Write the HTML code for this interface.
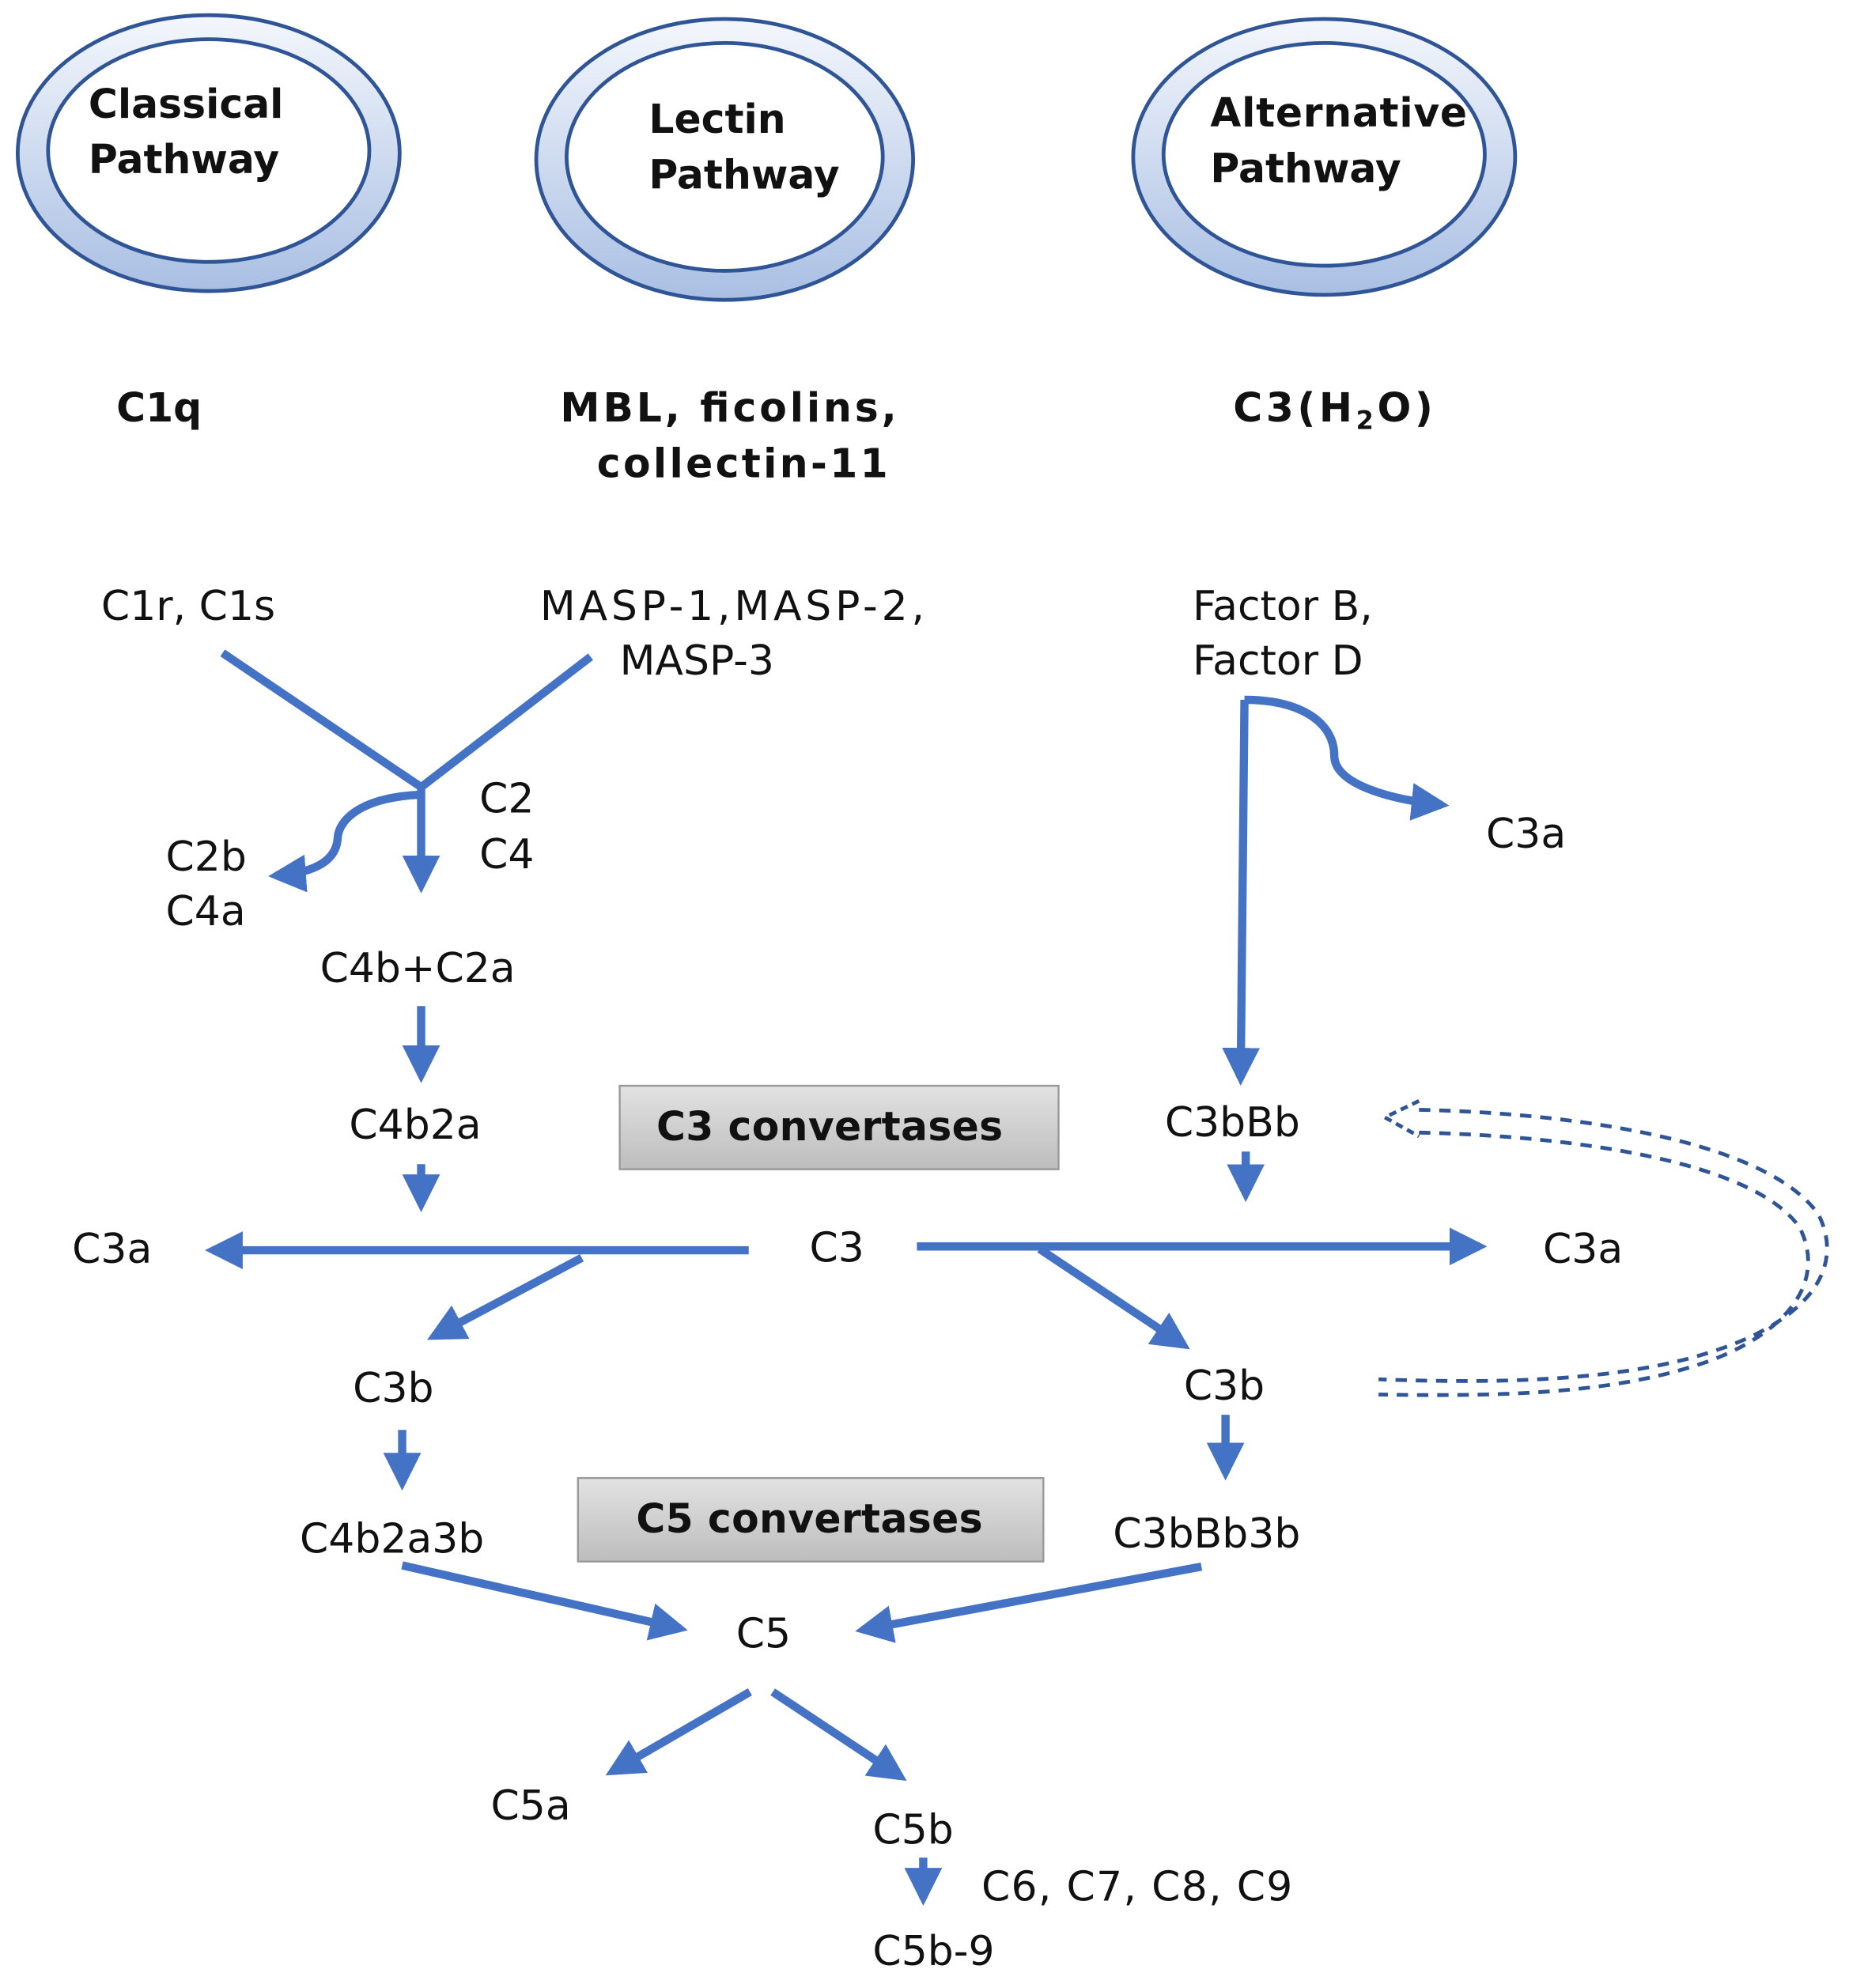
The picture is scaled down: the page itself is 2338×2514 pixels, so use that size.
<!DOCTYPE html>
<html><head><meta charset="utf-8"><style>
html,body{margin:0;padding:0;background:#fff;}
svg{display:block;}
text{font-family:"DejaVu Sans","Liberation Sans",sans-serif;fill:#111;font-size:32.5px;}
.b{font-weight:bold;font-size:31.5px;}
</style></head><body>
<svg width="2338" height="2514" viewBox="0 0 1462 1571" preserveAspectRatio="none" xmlns="http://www.w3.org/2000/svg">
<defs>
<linearGradient id="rg" x1="0" y1="0" x2="0" y2="1"><stop offset="0" stop-color="#f4f7fc"/><stop offset="1" stop-color="#a9bfe3"/></linearGradient>
<linearGradient id="bg" x1="0" y1="0" x2="0" y2="1"><stop offset="0" stop-color="#e2e2e2"/><stop offset="1" stop-color="#bdbdbd"/></linearGradient>
<marker id="a" viewBox="0 0 10 10" refX="8" refY="5" markerWidth="4.6" markerHeight="4.6" orient="auto" markerUnits="strokeWidth"><path d="M0,0 L10,5 L0,10 z" fill="#4472C4"/></marker>
</defs>
<g stroke="#2f5597" stroke-width="3">
<ellipse cx="165" cy="121" rx="151" ry="109" fill="url(#rg)"/><ellipse cx="165" cy="119" rx="127" ry="88" fill="#fff"/>
<ellipse cx="573" cy="126" rx="149" ry="111" fill="url(#rg)"/><ellipse cx="573" cy="124" rx="125" ry="90" fill="#fff"/>
<ellipse cx="1047" cy="124" rx="151" ry="109" fill="url(#rg)"/><ellipse cx="1047" cy="122" rx="127" ry="88" fill="#fff"/>
</g>
<text class="b" x="70" y="93">Classical</text><text class="b" x="70" y="137">Pathway</text>
<text class="b" x="513" y="105">Lectin</text><text class="b" x="513" y="149">Pathway</text>
<text class="b" x="957" y="100" textLength="203">Alternative</text><text class="b" x="957" y="144">Pathway</text>
<text class="b" x="92" y="333">C1q</text>
<text class="b" x="443" y="333" textLength="266">MBL, ficolins,</text>
<text class="b" x="472" y="377" textLength="230">collectin-11</text>
<text class="b" x="975" y="333" textLength="158">C3(H<tspan font-size="20" dy="6">2</tspan><tspan dy="-6">O)</tspan></text>
<text x="80" y="490">C1r, C1s</text>
<text x="427" y="490" textLength="304">MASP-1,MASP-2,</text><text x="490" y="533">MASP-3</text>
<text x="943" y="490">Factor B,</text><text x="943" y="533">Factor D</text>
<text x="379" y="642">C2</text><text x="379" y="686">C4</text>
<text x="131" y="688">C2b</text><text x="131" y="731">C4a</text>
<text x="253" y="776">C4b+C2a</text>
<text x="276" y="900">C4b2a</text>
<rect x="490" y="858" width="347" height="66" fill="url(#bg)" stroke="#999" stroke-width="1.5"/>
<text class="b" x="519" y="901" textLength="274">C3 convertases</text>
<rect x="457" y="1168" width="368" height="66" fill="url(#bg)" stroke="#999" stroke-width="1.5"/>
<text class="b" x="503" y="1211" textLength="274">C5 convertases</text>
<text x="57" y="998">C3a</text>
<text x="640" y="997">C3</text>
<text x="1220" y="998">C3a</text>
<text x="1175" y="670">C3a</text>
<text x="921" y="898">C3bBb</text>
<text x="279" y="1108">C3b</text>
<text x="936" y="1106">C3b</text>
<text x="237" y="1227">C4b2a3b</text>
<text x="880" y="1223">C3bBb3b</text>
<text x="582" y="1302">C5</text>
<text x="388" y="1438">C5a</text>
<text x="690" y="1457">C5b</text>
<text x="776" y="1502" textLength="246">C6, C7, C8, C9</text>
<text x="690" y="1553">C5b-9</text>
<g stroke="#4472C4" stroke-width="6.5" fill="none">
<line x1="176" y1="516" x2="333" y2="622"/>
<line x1="467" y1="519" x2="333" y2="622"/>
<line x1="333" y1="620" x2="333" y2="700" marker-end="url(#a)"/>
<path d="M333,628 C285,630 268,648 267,662 C266,682 245,690 218,692" marker-end="url(#a)"/>
<line x1="333" y1="795" x2="333" y2="850" marker-end="url(#a)"/>
<line x1="333" y1="920" x2="333" y2="952" marker-end="url(#a)"/>
<line x1="592" y1="988" x2="168" y2="988" marker-end="url(#a)"/>
<line x1="460" y1="994" x2="343" y2="1056" marker-end="url(#a)"/>
<line x1="318" y1="1130" x2="318" y2="1172" marker-end="url(#a)"/>
<line x1="984" y1="553" x2="981" y2="852" marker-end="url(#a)"/>
<path d="M984,553 C1030,553 1055,572 1055,597 C1055,620 1100,632 1140,636" marker-end="url(#a)"/>
<line x1="985" y1="910" x2="985" y2="944" marker-end="url(#a)"/>
<line x1="725" y1="985" x2="1170" y2="985" marker-end="url(#a)"/>
<line x1="822" y1="987" x2="936" y2="1063" marker-end="url(#a)"/>
<line x1="969" y1="1118" x2="969" y2="1164" marker-end="url(#a)"/>
<line x1="318" y1="1237" x2="538" y2="1287" marker-end="url(#a)"/>
<line x1="950" y1="1238" x2="682" y2="1288" marker-end="url(#a)"/>
<line x1="593" y1="1337" x2="484" y2="1400" marker-end="url(#a)"/>
<line x1="611" y1="1337" x2="712" y2="1404" marker-end="url(#a)"/>
<line x1="730" y1="1468" x2="730" y2="1500" marker-end="url(#a)"/>
</g>
<g stroke="#2f5597" stroke-width="3" fill="none" stroke-dasharray="9,7">
<path d="M1122,877 C1260,880 1400,905 1438,960 C1458,1000 1433,1040 1363,1065 C1293,1090 1200,1094 1090,1090"/>
<path d="M1122,895 C1255,898 1388,920 1423,970 C1443,1010 1418,1050 1353,1075 C1283,1100 1200,1104 1090,1102"/>
<path d="M1122,870 L1095,883 L1122,898" stroke-dasharray="6,4"/>
</g>
</svg>
</body></html>
